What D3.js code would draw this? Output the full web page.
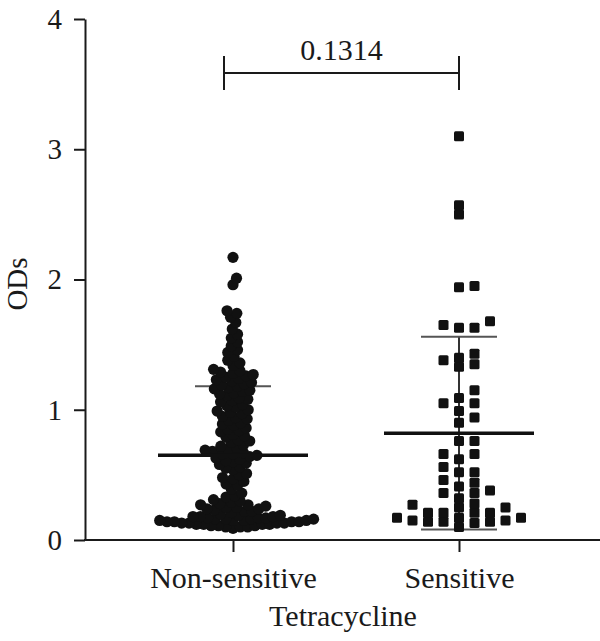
<!DOCTYPE html>
<html>
<head>
<meta charset="utf-8">
<script src="https://cdn.jsdelivr.net/npm/d3@7"></script>
<style>
  body { margin: 0; background: #fff; }
  svg { display: block; }
</style>
</head>
<body>
<div id="chart"></div>
<script>
// groups on the x axis
const groups = ['Non-sensitive', 'Sensitive'];

// ODs, one value per dot
const nonSensitive = [
  2.17, 2.01, 1.96, 1.76, 1.74, 1.71, 1.67, 1.62, 1.58, 1.55, 1.52, 1.49, 1.46, 1.44,
  1.41, 1.38, 1.36, 1.34, 1.31, 1.30, 1.29, 1.28, 1.27, 1.26, 1.25, 1.24, 1.23, 1.22,
  1.21, 1.20, 1.19, 1.18,
  1.17, 1.16, 1.15, 1.14, 1.13, 1.12, 1.11, 1.09, 1.08, 1.07, 1.06, 1.04, 1.03, 1.02,
  1.00, 0.99, 0.98, 0.97, 0.95, 0.94, 0.93, 0.92, 0.90, 0.89,
  0.88, 0.86, 0.85, 0.84, 0.83, 0.81, 0.80, 0.79, 0.77, 0.76, 0.75, 0.73, 0.72, 0.71,
  0.70, 0.69, 0.68, 0.67, 0.66, 0.66, 0.65, 0.64, 0.63, 0.62, 0.61, 0.60, 0.59, 0.58,
  0.56, 0.55,
  0.54, 0.51, 0.50, 0.48, 0.47, 0.45, 0.43, 0.42, 0.39, 0.36, 0.34, 0.33, 0.31,
  0.30, 0.29, 0.28, 0.27, 0.27, 0.26, 0.25, 0.25, 0.24, 0.24, 0.23, 0.22, 0.22, 0.21,
  0.20, 0.19, 0.19, 0.18, 0.18, 0.18, 0.17, 0.17, 0.17, 0.16, 0.16, 0.16,
  0.16, 0.15, 0.15, 0.15, 0.15, 0.14, 0.14, 0.14, 0.14, 0.13, 0.13, 0.13, 0.13, 0.12,
  0.12, 0.12, 0.12, 0.11, 0.11, 0.11, 0.10, 0.10, 0.10, 0.09
];

const sensitive = [
  3.10, 2.57, 2.50, 1.95, 1.94, 1.68, 1.65, 1.63, 1.63, 1.43, 1.40, 1.38, 1.35, 1.33,
  1.15, 1.09, 1.05, 1.05, 0.99, 0.94, 0.90, 0.76, 0.76, 0.66, 0.66, 0.62,
  0.56, 0.52, 0.52, 0.46, 0.44, 0.41, 0.38, 0.36, 0.36, 0.32,
  0.28, 0.27, 0.25, 0.25, 0.21, 0.21, 0.21, 0.21, 0.17, 0.17, 0.17, 0.15, 0.15,
  0.14, 0.14, 0.14, 0.13, 0.10
];

// mean and SD as plotted
const means = [0.65, 0.82];
const sds = [0.53, 0.74];

const pValue = '0.1314';
const bracketLevel = 3.585;

const yTicks = [0, 1, 2, 3, 4];

const width = 600, height = 641;
const font = '"Liberation Serif", "Times New Roman", serif';
const ink = '#1a1a1a';

const svg = d3.select('#chart')
  .append('svg')
  .attr('width', width)
  .attr('height', height);

const y = d3.scaleLinear().domain([0, 4]).range([540, 19]);
const x = d3.scalePoint().domain(groups).range([233, 459]);

// y axis
const yAxis = svg.append('g')
  .attr('transform', 'translate(85,0)')
  .call(d3.axisLeft(y).tickValues(yTicks).tickFormat(d3.format('d'))
    .tickSize(11).tickSizeOuter(0).tickPadding(12));
yAxis.selectAll('path, line').attr('stroke', ink).attr('stroke-width', 2);
yAxis.selectAll('text')
  .attr('fill', ink)
  .style('font-family', font)
  .style('font-size', '29px');

// x axis, line runs to the right edge
const xAxis = svg.append('g')
  .attr('transform', 'translate(0,540)')
  .call(d3.axisBottom(x).tickSize(12).tickSizeOuter(0).tickPadding(15));
xAxis.select('.domain').remove();
xAxis.selectAll('line').attr('stroke', ink).attr('stroke-width', 2);
xAxis.selectAll('text')
  .attr('fill', ink)
  .style('font-family', font)
  .style('font-size', '30px');
svg.append('line')
  .attr('x1', 84).attr('x2', 600)
  .attr('y1', 540).attr('y2', 540)
  .attr('stroke', ink).attr('stroke-width', 2);

// axis titles
svg.append('text')
  .attr('transform', 'translate(27,284) rotate(-90)')
  .attr('text-anchor', 'middle')
  .attr('fill', ink)
  .style('font-family', font)
  .style('font-size', '29px')
  .text('ODs');

svg.append('text')
  .attr('x', 343).attr('y', 626)
  .attr('text-anchor', 'middle')
  .attr('fill', ink)
  .style('font-family', font)
  .style('font-size', '30px')
  .text('Tetracycline');

// mean / SD bars (under the dots)
const stats = groups.map((g, i) => ({ g, mean: means[i], sd: sds[i] }));
const bars = svg.append('g');
stats.forEach(s => {
  const cx = x(s.g);
  bars.append('line')
    .attr('x1', cx).attr('x2', cx)
    .attr('y1', y(s.mean + s.sd)).attr('y2', y(s.mean - s.sd))
    .attr('stroke', '#333').attr('stroke-width', 2);
  [s.mean + s.sd, s.mean - s.sd].forEach(v => {
    bars.append('line')
      .attr('x1', cx - 38).attr('x2', cx + 38)
      .attr('y1', y(v)).attr('y2', y(v))
      .attr('stroke', '#555').attr('stroke-width', 2);
  });
});

// beeswarm for circles: smallest |offset| that keeps minDist from placed dots
function swarm(values, minDist) {
  const placed = [];
  values.slice().sort((a, b) => a - b).forEach(v => {
    const py = y(v);
    const cands = [0];
    placed.forEach(p => {
      const dy = Math.abs(p.y - py);
      if (dy < minDist) {
        const dx = Math.sqrt(minDist * minDist - dy * dy);
        cands.push(p.dx + dx, p.dx - dx);
      }
    });
    const ok = cands.filter(c => placed.every(p =>
      Math.hypot(p.dx - c, p.y - py) >= minDist - 1e-6));
    ok.sort((a, b) => Math.abs(a) - Math.abs(b) || b - a);
    placed.push({ v, y: py, dx: ok[0] });
  });
  return placed;
}

// column layout for squares: columns 0, +1, -1, +2, ...
function columns(values, step, gap) {
  const placed = [];
  values.slice().sort((a, b) => a - b).forEach(v => {
    const py = y(v);
    for (let k = 0; k < 40; k++) {
      const col = k === 0 ? 0 : (k % 2 ? (k + 1) / 2 : -k / 2);
      const clash = placed.some(p => p.col === col && Math.abs(p.y - py) < gap);
      if (!clash) { placed.push({ v, y: py, col, dx: col * step }); break; }
    }
  });
  return placed;
}

const dotsA = swarm(nonSensitive, 7.4);
svg.append('g')
  .selectAll('circle')
  .data(dotsA)
  .enter()
  .append('circle')
  .attr('cx', d => x('Non-sensitive') + d.dx)
  .attr('cy', d => d.y)
  .attr('r', 5.6)
  .attr('fill', '#111');

const dotsB = columns(sensitive, 15.5, 9);
svg.append('g')
  .selectAll('rect')
  .data(dotsB)
  .enter()
  .append('rect')
  .attr('x', d => x('Sensitive') + d.dx - 5)
  .attr('y', d => d.y - 5)
  .attr('width', 10)
  .attr('height', 10)
  .attr('rx', 1.5)
  .attr('fill', '#111');

// mean lines on top
stats.forEach(s => {
  svg.append('line')
    .attr('x1', x(s.g) - 75).attr('x2', x(s.g) + 75)
    .attr('y1', y(s.mean)).attr('y2', y(s.mean))
    .attr('stroke', '#111').attr('stroke-width', 3.5);
});

// significance bracket
const bx1 = x('Non-sensitive') - 9, bx2 = x('Sensitive');
const by = y(bracketLevel);
const bracket = svg.append('g')
  .attr('stroke', ink).attr('stroke-width', 2);
bracket.append('line').attr('x1', bx1).attr('x2', bx2).attr('y1', by).attr('y2', by);
bracket.append('line').attr('x1', bx1).attr('x2', bx1).attr('y1', by - 17).attr('y2', by + 17);
bracket.append('line').attr('x1', bx2).attr('x2', bx2).attr('y1', by - 17).attr('y2', by + 17);

svg.append('text')
  .attr('x', (bx1 + bx2) / 2).attr('y', by - 13)
  .attr('text-anchor', 'middle')
  .attr('fill', ink)
  .style('font-family', font)
  .style('font-size', '30px')
  .text(pValue);
</script>
</body>
</html>
